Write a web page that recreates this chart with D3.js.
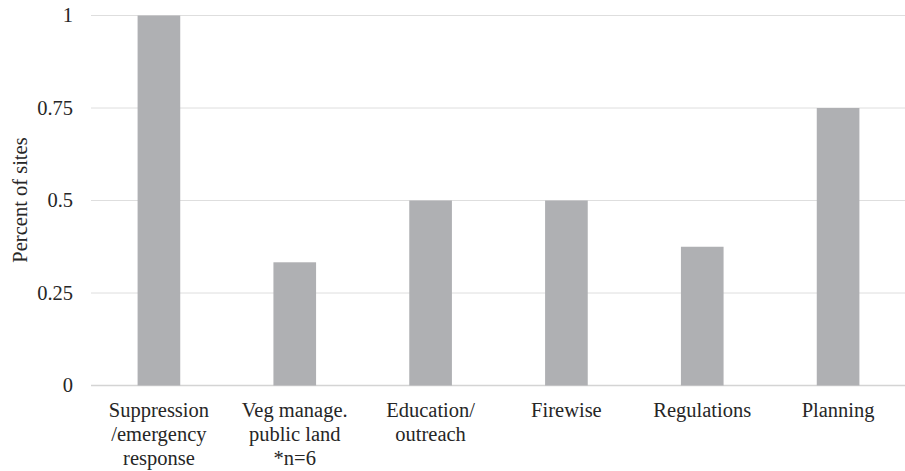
<!DOCTYPE html>
<html><head><meta charset="utf-8">
<script src="https://cdn.jsdelivr.net/npm/d3@7/dist/d3.min.js"></script>
<style>body{margin:0;background:#fff}svg{display:block}svg text{font-family:"Liberation Serif","Times New Roman",Times,serif;}</style>
</head><body>
<svg id="c" width="905" height="471"></svg>
<script>
const categories = [["Suppression","/emergency","response"],["Veg manage.","public land","*n=6"],["Education/","outreach"],["Firewise"],["Regulations"],["Planning"]];
const values = [1, 0.333, 0.5, 0.5, 0.375, 0.75];
const yTicks = [0, 0.25, 0.5, 0.75, 1];
const yTickLabels = ["0","0.25","0.5","0.75","1"];

const svg = d3.select("#c");
const W = 905;
const left = 91;
const x = d3.scaleBand().domain(d3.range(categories.length)).range([left, 906]).paddingInner(0.686).paddingOuter(0.343);
const y = d3.scaleLinear().domain([0,1]).range([385.5, 15.5]);

svg.append("g").selectAll("line").data(yTicks).join("line")
  .attr("x1", left).attr("x2", W).attr("y1", d=>y(d)).attr("y2", d=>y(d))
  .attr("stroke", d=>d===0?"#d4d4d4":"#dedede").attr("stroke-width", d=>d===0?1.5:1);

svg.append("g").selectAll("rect").data(values).join("rect")
  .attr("x", (d,i)=>x(i)).attr("width", x.bandwidth())
  .attr("y", d=>y(d)).attr("height", d=>y(0)-y(d))
  .attr("fill", "#afb0b3");

svg.append("g").selectAll("text").data(yTicks).join("text")
  .attr("x", 73).attr("y", d=>y(d)).attr("dy", "0.33em")
  .attr("text-anchor", "end").style("font-size", "20.5px").attr("fill", "#262626")
  .text((d,i)=>yTickLabels[i]);

const xl = svg.append("g").selectAll("text").data(categories).join("text")
  .attr("text-anchor", "middle").style("font-size", "20.5px").attr("fill", "#262626")
  .attr("transform", (d,i)=>`translate(${x(i)+x.bandwidth()/2},417)`);
xl.selectAll("tspan").data(d=>d).join("tspan")
  .attr("x", 0).attr("y", (d,j)=>j*24).text(d=>d);

svg.append("text").attr("transform", "translate(27,200) rotate(-90)")
  .attr("text-anchor", "middle").style("font-size", "20.5px").attr("fill", "#262626")
  .text("Percent of sites");
</script>
</body></html>
